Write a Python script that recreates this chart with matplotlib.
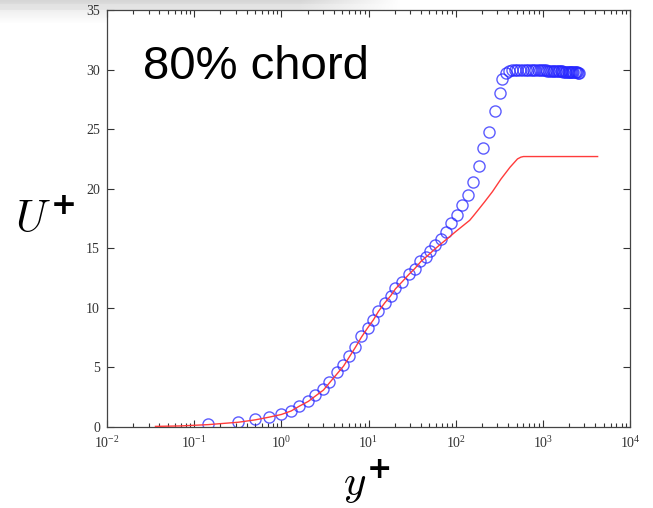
import numpy as np
import matplotlib
matplotlib.use("Agg")
import matplotlib.pyplot as plt
from matplotlib.ticker import LogLocator, MultipleLocator, NullFormatter

plt.rcParams['font.family'] = ['Liberation Serif', 'DejaVu Serif']
plt.rcParams['mathtext.fontset'] = 'stix'
# custom math font for the axis symbols: CM italic letter, heavy sans "+"
plt.rcParams['mathtext.it'] = 'cmmi10'
plt.rcParams['mathtext.bf'] = 'DejaVu Sans:bold'

# LES profile (circles)
yplus_les = [0.145, 0.321, 0.502, 0.728, 1.00, 1.30, 1.61, 2.04, 2.46, 3.04,
             3.56, 4.40, 5.16, 6.05, 7.09, 8.31, 9.74, 11.4, 13.0, 15.3,
             17.9, 20.4, 24.4, 29.0, 34.0, 38.9, 45.2, 50.7, 57.8, 68.5,
             78.2, 89.3, 103, 119, 138, 157, 184, 208, 239, 283,
             321, 344, 376, 407, 440, 475, 510, 550, 590, 635,
             680, 725, 770, 820, 870, 920, 970, 1020, 1075, 1130,
             1185, 1240, 1300, 1360, 1420, 1480, 1540, 1600, 1660, 1725,
             1790, 1855, 1920, 1985, 2050, 2115, 2180, 2245, 2310, 2380,
             2450, 2520, 2590]
uplus_les = [0.25, 0.45, 0.65, 0.87, 1.1, 1.37, 1.8, 2.2, 2.7, 3.2,
             3.8, 4.6, 5.2, 6.0, 6.75, 7.6, 8.3, 9.0, 9.75, 10.4,
             11.0, 11.7, 12.2, 12.8, 13.3, 13.9, 14.3, 14.8, 15.3, 15.75,
             16.4, 17.1, 17.8, 18.6, 19.45, 20.6, 21.9, 23.4, 24.8, 26.5,
             28.0, 29.2, 29.7, 29.9, 29.97, 30.0, 30.0, 30.0, 30.0, 30.0,
             30.0, 29.99, 29.98, 29.97, 29.96, 29.95, 29.95, 29.94, 29.93, 29.92,
             29.91, 29.9, 29.89, 29.88, 29.87, 29.86, 29.85, 29.85, 29.84, 29.83,
             29.82, 29.81, 29.8, 29.8, 29.79, 29.78, 29.78, 29.77, 29.77, 29.76,
             29.76, 29.75, 29.75]

# reference profile (red line)
yplus_ref = [0.036, 0.07, 0.145, 0.321, 0.502, 0.728, 1.0, 1.30, 1.61, 2.04,
             2.46, 3.04, 3.56, 4.40, 5.16, 6.05, 7.09, 8.31, 9.74, 11.4,
             13.0, 15.3, 17.9, 20.4, 24.4, 29.0, 34.0, 40.0, 48.0, 57.0,
             68.5, 80.0, 100, 124, 145, 161, 185, 215, 264, 330,
             420, 512, 560, 600, 4250]
uplus_ref = [0.05, 0.09, 0.2, 0.4, 0.6, 0.83, 1.05, 1.35, 1.75, 2.15,
             2.6, 3.1, 3.7, 4.5, 5.1, 5.9, 6.7, 7.55, 8.3, 9.0,
             9.7, 10.4, 11.0, 11.6, 12.2, 12.8, 13.3, 13.9, 14.4, 14.9,
             15.4, 15.8, 16.4, 16.95, 17.35, 17.75, 18.3, 18.9, 19.75, 20.8,
             21.8, 22.5, 22.65, 22.7, 22.7]

fig = plt.figure(figsize=(6.53, 5.08), dpi=100)

# light grey band along the top edge
bg = fig.add_axes([0, 1 - 24 / 508, 1, 24 / 508], zorder=-1)
h, w = 24, 653
vert = np.interp(np.arange(h), [0, 3, 4, 9, 10, 23], [0.84, 0.86, 0.89, 0.90, 0.94, 1.0])
horiz = np.interp(np.arange(w), [0, 300, 400, 653], [1.0, 1.0, 0.0, 0.0])
shade = 1 - (1 - vert[:, None]) * horiz[None, :]
bg.imshow(np.dstack([shade] * 3), aspect='auto', extent=(0, 1, 0, 1))
bg.axis('off')

ax = fig.add_axes([107 / 653, 1 - 427 / 508, 523 / 653, 417 / 508])

ax.semilogx(yplus_les, uplus_les, 'o', mfc='none', mec=(0.15, 0.15, 1.0, 0.75),
            ms=8, mew=1.0, zorder=2)
ax.semilogx(yplus_ref, uplus_ref, '-', color='#ff3b3b', lw=1.0, zorder=3)

ax.set_xlim(1e-2, 1e4)
ax.set_ylim(0, 35)
ax.xaxis.set_major_locator(LogLocator(base=10, numticks=10))
ax.xaxis.set_minor_locator(LogLocator(base=10, subs=np.arange(2, 10), numticks=10))
ax.xaxis.set_minor_formatter(NullFormatter())
ax.yaxis.set_major_locator(MultipleLocator(5))

ax.tick_params(which='both', direction='in', top=True, right=True,
               colors='#333333', labelsize=10, width=0.8)
ax.tick_params(which='major', length=5)
ax.tick_params(which='minor', length=3)
ax.tick_params(axis='y', pad=5)
ax.tick_params(axis='x', pad=6)
for s in ax.spines.values():
    s.set_color('#444444')
    s.set_linewidth(0.9)

fig.text(143 / 653, 1 - 79 / 508, '80% chord', family='Liberation Sans',
         fontsize=34, va='baseline', ha='left')

fig.text(45 / 653, 1 - 220 / 508, r'$U^{\mathbf{+}}$', fontsize=32,
         ha='center', va='center', math_fontfamily='custom')
fig.text(367 / 653, 1 - 482 / 508, r'$y^{\mathbf{+}}$', fontsize=31,
         ha='center', va='center', math_fontfamily='custom')

fig.savefig('out.png', dpi=100)
